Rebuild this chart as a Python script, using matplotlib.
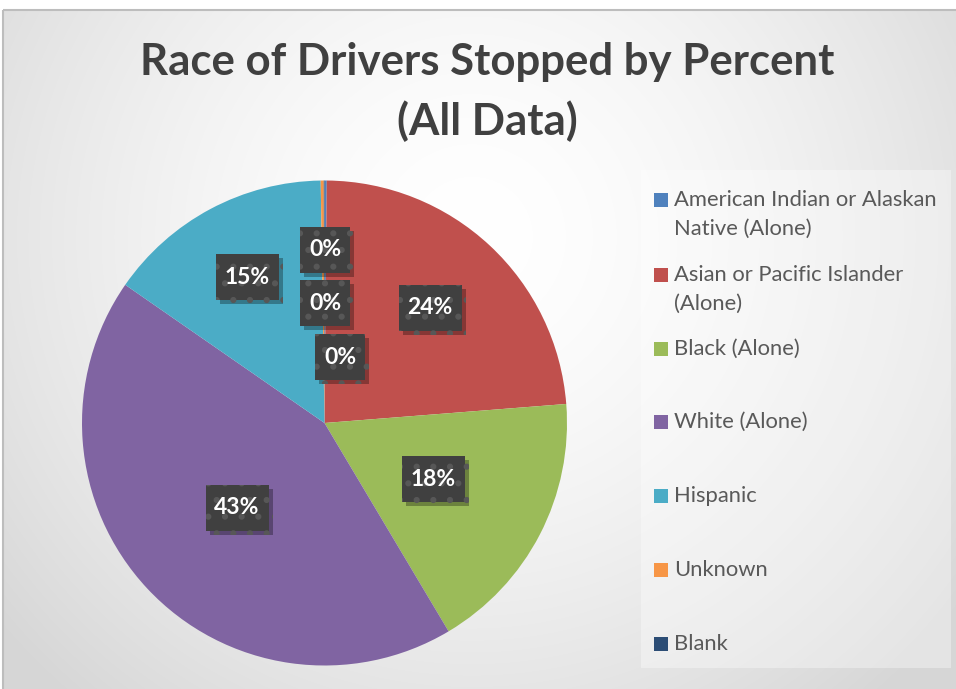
import numpy as np
import matplotlib.pyplot as plt
from matplotlib.patches import Rectangle
import matplotlib.patheffects as pe

plt.rcParams['font.family'] = ['Lato', 'DejaVu Sans']

# data
categories = ['American Indian or Alaskan\nNative (Alone)', 'Asian or Pacific Islander\n(Alone)',
              'Black (Alone)', 'White (Alone)', 'Hispanic', 'Unknown', 'Blank']
percents = [0.15, 23.6, 17.7, 43.2, 15.1, 0.2, 0.05]
colors = ['#4f81bd', '#c0504d', '#9bbb59', '#8064a2', '#4bacc6', '#f79646', '#2c4d75']

W, H = 956, 689
fig = plt.figure(figsize=(W / 100, H / 100), dpi=100)
fig.patch.set_facecolor('white')

# background with soft radial gradient inside the chart border
bg = fig.add_axes([0, 0, 1, 1])
bg.set_xlim(0, W)
bg.set_ylim(H, 0)
bg.axis('off')
yy, xx = np.mgrid[0:H, 0:W]
d = np.sqrt((xx - 470) ** 2 + (yy - 230) ** 2) / 620
shade = 1 - 0.16 * np.clip(d, 0, 1) ** 1.6
img = np.dstack([shade, shade, shade])
bg.imshow(img, extent=(3.5, W, H, 10), aspect='auto', zorder=0)
bg.add_patch(Rectangle((3.5, 10), W, H, fill=False, edgecolor='#bdbdbd', lw=1.5, zorder=1))

# legend box
bg.add_patch(Rectangle((641, 170), 310, 498, facecolor='white', alpha=0.35, lw=0, zorder=1))

# title
bg.text(487, 62, 'Race of Drivers Stopped by Percent', ha='center', va='center',
        fontsize=31.5, fontweight='bold', color='#404040')
bg.text(487, 121, '(All Data)', ha='center', va='center',
        fontsize=31.5, fontweight='bold', color='#404040')

# pie axes
cx, cy, r = 324.5, 423, 242.5
ax = fig.add_axes([(cx - r) / W, (H - cy - r) / H, 2 * r / W, 2 * r / H])
ax.pie(percents, colors=colors, startangle=90, counterclock=False, radius=1,
       wedgeprops=dict(linewidth=0))
ax.set_xlim(-1, 1)
ax.set_ylim(-1, 1)
ax.axis('off')

# data labels (positions in pixels)
label_px = [(325, 250), (430, 308), (433, 479), (237, 508), (247, 277), (325, 303), (340, 357)]
plt.rcParams['hatch.linewidth'] = 2.0
for v, (px, py) in zip(percents, label_px):
    s = f'{round(v)}%'
    bw, bh = (24 + 13 * len(s)) / r, 46 / r
    x0, y0 = (px - cx) / r, (cy - py) / r
    box = Rectangle((x0 - bw / 2, y0 - bh / 2), bw, bh, facecolor='#404040',
                    edgecolor='#575757', hatch='.', linewidth=0, zorder=4)
    box.set_path_effects([
        pe.SimplePatchShadow(offset=(3, -3), shadow_rgbFace='black', alpha=0.3),
        pe.Normal()])
    ax.add_patch(box)
    ax.text(x0, y0, s, ha='center', va='center', fontsize=16.5, fontweight='bold',
            color='white', zorder=5)

# legend entries
ys = [200, 275, 349, 422, 496, 570, 644]
for lab, col, y in zip(categories, colors, ys):
    bg.add_patch(Rectangle((654, y - 7), 14, 14, facecolor=col, lw=0, zorder=3))
    lines = lab.split('\n')
    bg.text(674, y, lines[0], ha='left', va='center', fontsize=15.8, color='#595959', zorder=3)
    if len(lines) > 1:
        bg.text(674, y + 29, lines[1], ha='left', va='center', fontsize=15.8,
                color='#595959', zorder=3)

fig.savefig('out.png', dpi=100)
